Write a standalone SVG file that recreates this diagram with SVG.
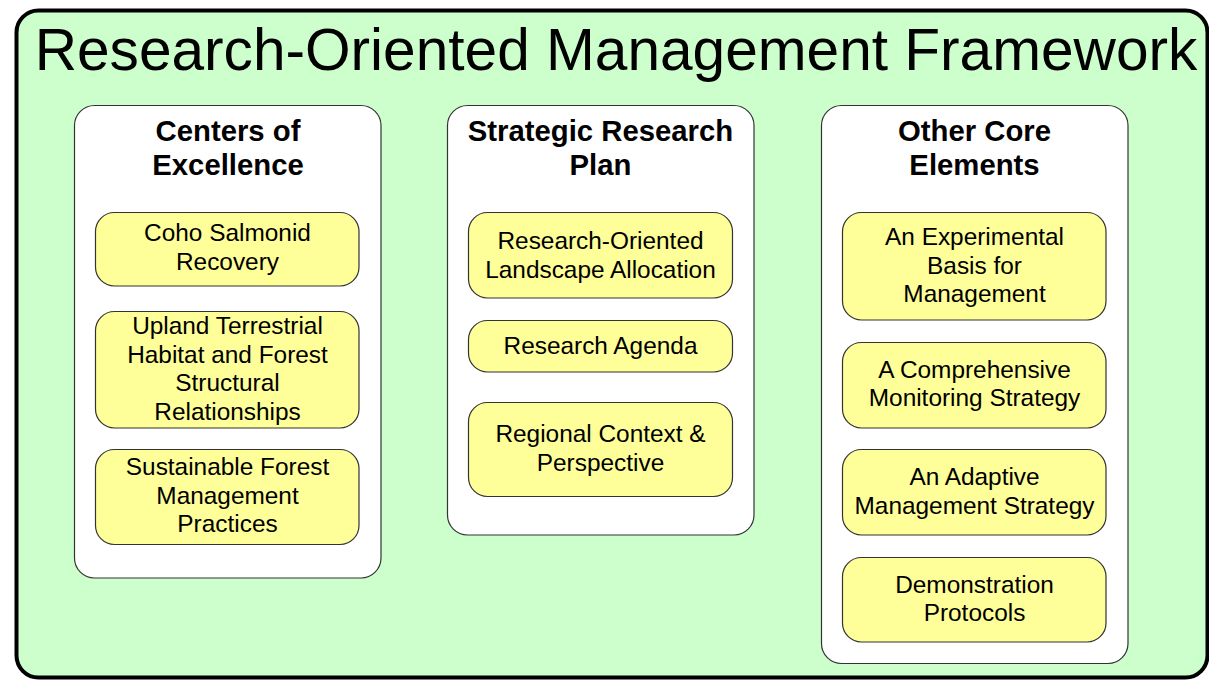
<svg xmlns="http://www.w3.org/2000/svg" width="1209" height="681" viewBox="0 0 1209 681">
  <style>
    .frame { fill: #ccffcc; stroke: #000000; stroke-width: 4; }
    .column { fill: #ffffff; stroke: #333333; stroke-width: 1.2; }
    .item { fill: #ffff99; stroke: #333333; stroke-width: 1.2; }
    .title { font-family: "Liberation Sans", Arial, sans-serif; font-size: 58.6px; fill: #000000; text-anchor: middle; }
    .head { font-family: "Liberation Sans", Arial, sans-serif; font-size: 29.3px; font-weight: bold; fill: #000000; text-anchor: middle; }
    .label { font-family: "Liberation Sans", Arial, sans-serif; font-size: 24.4px; fill: #000000; text-anchor: middle; }
  </style>

  <!-- outer framework panel -->
  <g id="framework">
    <rect class="frame" x="16.5" y="10.5" width="1191" height="667" rx="22" ry="22"/>
    <text class="title" x="616" y="70">Research-Oriented Management Framework</text>
  </g>

  <!-- column: Centers of Excellence -->
  <g id="centers-of-excellence">
    <rect class="column" x="74.5" y="105.5" width="306.5" height="472.5" rx="20" ry="20"/>
    <text class="head" x="228" y="141">Centers of</text>
    <text class="head" x="228" y="175">Excellence</text>
  </g>
  <g id="coho-salmonid-recovery">
    <rect class="item" x="95.5" y="212.5" width="263.5" height="73.5" rx="19" ry="19"/>
    <text class="label" x="227.5" y="241">Coho Salmonid</text>
    <text class="label" x="227.5" y="270">Recovery</text>
  </g>
  <g id="upland-terrestrial-habitat">
    <rect class="item" x="95.5" y="311.5" width="263.5" height="116.5" rx="19" ry="19"/>
    <text class="label" x="227.5" y="334">Upland Terrestrial</text>
    <text class="label" x="227.5" y="363">Habitat and Forest</text>
    <text class="label" x="227.5" y="391">Structural</text>
    <text class="label" x="227.5" y="420">Relationships</text>
  </g>
  <g id="sustainable-forest-management">
    <rect class="item" x="95.5" y="449.5" width="263.5" height="95" rx="19" ry="19"/>
    <text class="label" x="227.5" y="475">Sustainable Forest</text>
    <text class="label" x="227.5" y="504">Management</text>
    <text class="label" x="227.5" y="532">Practices</text>
  </g>

  <!-- column: Strategic Research Plan -->
  <g id="strategic-research-plan">
    <rect class="column" x="447.5" y="105.5" width="306.5" height="429.5" rx="20" ry="20"/>
    <text class="head" x="600.5" y="141">Strategic Research</text>
    <text class="head" x="600.5" y="175">Plan</text>
  </g>
  <g id="landscape-allocation">
    <rect class="item" x="468.5" y="212.5" width="264" height="85.5" rx="19" ry="19"/>
    <text class="label" x="600.5" y="249">Research-Oriented</text>
    <text class="label" x="600.5" y="278">Landscape Allocation</text>
  </g>
  <g id="research-agenda">
    <rect class="item" x="468.5" y="320.5" width="264" height="51.5" rx="19" ry="19"/>
    <text class="label" x="600.5" y="354">Research Agenda</text>
  </g>
  <g id="regional-context">
    <rect class="item" x="468.5" y="402.5" width="264" height="94" rx="19" ry="19"/>
    <text class="label" x="600.5" y="442">Regional Context &amp;</text>
    <text class="label" x="600.5" y="471">Perspective</text>
  </g>

  <!-- column: Other Core Elements -->
  <g id="other-core-elements">
    <rect class="column" x="821.5" y="105.5" width="306.5" height="558" rx="20" ry="20"/>
    <text class="head" x="974.5" y="141">Other Core</text>
    <text class="head" x="974.5" y="175">Elements</text>
  </g>
  <g id="experimental-basis">
    <rect class="item" x="842.5" y="212.5" width="263.5" height="107.5" rx="19" ry="19"/>
    <text class="label" x="974.5" y="245">An Experimental</text>
    <text class="label" x="974.5" y="274">Basis for</text>
    <text class="label" x="974.5" y="302">Management</text>
  </g>
  <g id="monitoring-strategy">
    <rect class="item" x="842.5" y="342.5" width="263.5" height="85.5" rx="19" ry="19"/>
    <text class="label" x="974.5" y="378">A Comprehensive</text>
    <text class="label" x="974.5" y="406">Monitoring Strategy</text>
  </g>
  <g id="adaptive-management">
    <rect class="item" x="842.5" y="449.5" width="263.5" height="85.5" rx="19" ry="19"/>
    <text class="label" x="974.5" y="485">An Adaptive</text>
    <text class="label" x="974.5" y="514">Management Strategy</text>
  </g>
  <g id="demonstration-protocols">
    <rect class="item" x="842.5" y="557.5" width="263.5" height="84.5" rx="19" ry="19"/>
    <text class="label" x="974.5" y="593">Demonstration</text>
    <text class="label" x="974.5" y="621">Protocols</text>
  </g>

  <!-- no connectors are drawn between the boxes -->
  <g id="connectors"/>
</svg>
